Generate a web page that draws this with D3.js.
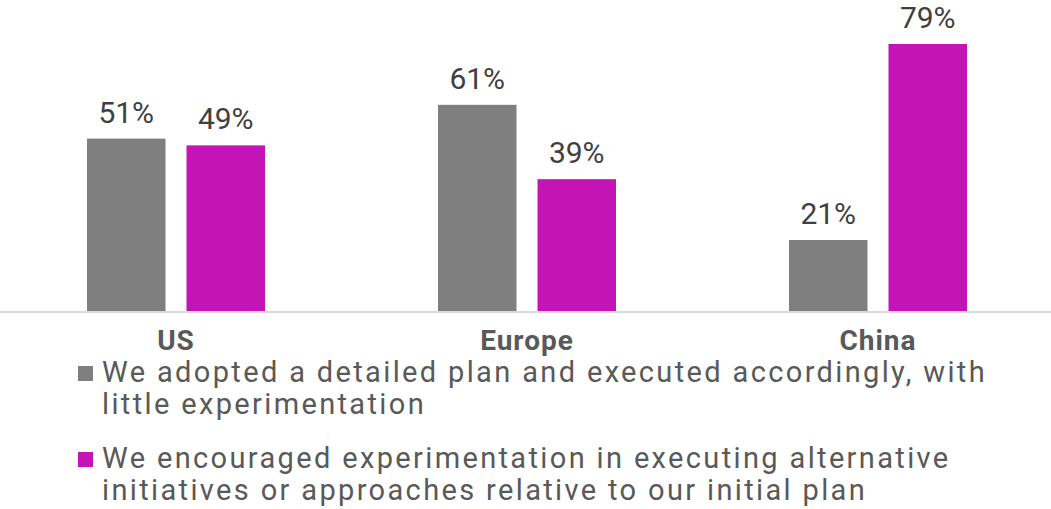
<!DOCTYPE html>
<html><head><meta charset="utf-8">
<script src="https://cdn.jsdelivr.net/npm/d3@7"></script>
<style>body{margin:0;background:#fff}svg{display:block}</style>
</head><body>
<svg id="c" width="1051" height="509"></svg>
<script>
const categories = ["US", "Europe", "China"];
const seriesNames = [
  "We adopted a detailed plan and executed accordingly, with little experimentation",
  "We encouraged experimentation in executing alternative initiatives or approaches relative to our initial plan"
];
const legendLines = [
  ["We adopted a detailed plan and executed accordingly, with", "little experimentation"],
  ["We encouraged experimentation in executing alternative", "initiatives or approaches relative to our initial plan"]
];
const planValues = [51, 61, 21];
const experimentValues = [49, 39, 79];
const colors = ["#7f7f7f", "#c414b5"];

const series = [planValues, experimentValues];
const svg = d3.select("#c");
const baseY = 311;
const x0 = d3.scaleBand().domain(categories).range([0, 1053]);
const x1 = d3.scaleBand().domain([0, 1]).range([87, 265]).paddingInner(0.211);
const y = d3.scaleLinear().domain([0, 100]).range([baseY, baseY - 338]);

const rows = [];
categories.forEach((c, i) => series.forEach((s, j) => rows.push({c, j, v: s[i]})));

svg.selectAll("rect.bar").data(rows).join("rect")
  .attr("class", "bar")
  .attr("x", d => x0(d.c) + x1(d.j))
  .attr("width", x1.bandwidth())
  .attr("y", d => y(d.v))
  .attr("height", d => y(0) - y(d.v))
  .attr("fill", d => colors[d.j]);

svg.selectAll("text.val").data(rows).join("text")
  .attr("class", "val")
  .attr("x", d => x0(d.c) + x1(d.j) + x1.bandwidth() / 2)
  .attr("y", d => y(d.v) - 16)
  .attr("text-anchor", "middle")
  .attr("font-family", "Roboto, sans-serif")
  .attr("font-size", 30)
  .attr("fill", "#404040")
  .text(d => d.v + "%");

svg.append("line").attr("x1", 0).attr("x2", 1051).attr("y1", baseY + 1).attr("y2", baseY + 1)
  .attr("stroke", "#d9d9d9").attr("stroke-width", 2);

svg.selectAll("text.cat").data(categories).join("text")
  .attr("class", "cat")
  .attr("x", d => x0(d) + 176)
  .attr("y", 350)
  .attr("text-anchor", "middle")
  .attr("font-family", "Roboto, sans-serif")
  .attr("font-weight", "bold")
  .attr("font-size", 28)
  .attr("letter-spacing", 1)
  .attr("fill", "#595959")
  .text(d => d);

const leg = svg.append("g");
const legTop = [382, 468];
const legTexts = [];
legendLines.forEach((lines, i) => {
  leg.append("rect").attr("x", 78).attr("y", legTop[i] - 16).attr("width", 15).attr("height", 15)
    .attr("fill", colors[i]);
  lines.forEach((t, k) => {
    legTexts.push(leg.append("text")
      .attr("x", 102)
      .attr("y", legTop[i] + k * 32)
      .attr("font-family", "Roboto, sans-serif")
      .attr("font-size", 29)
      .attr("fill", "#595959")
      .text(t));
  });
});
// fit letter spacing so first legend line spans the same width as reference
const w0 = legTexts[0].node().getComputedTextLength();
const n0 = legendLines[0][0].length;
const ls = (885 - w0) / n0;
legTexts.forEach(t => t.attr("letter-spacing", ls));
</script>
</body></html>
